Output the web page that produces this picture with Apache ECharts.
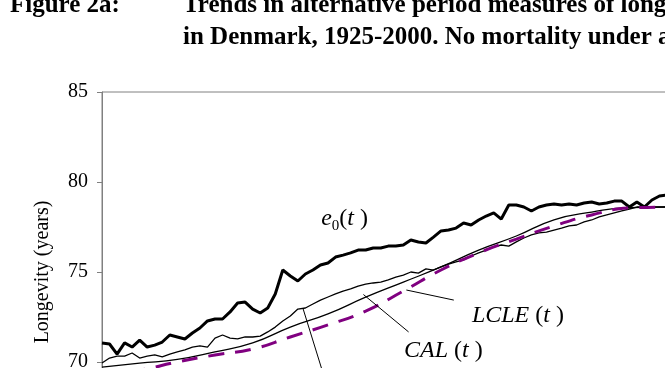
<!DOCTYPE html>
<html>
<head>
<meta charset="utf-8">
<script src="https://cdn.jsdelivr.net/npm/echarts@6/dist/echarts.min.js"></script>
<style>
  html, body { margin: 0; padding: 0; background: #fff; }
  #chart { width: 665px; height: 368px; }
</style>
</head>
<body>
<div id="chart"></div>
<script>
// years 1925-2000, one value per year for the jagged series
const firstYear = 1925
const lastYear = 2000
const years = []
for (let y = firstYear; y <= lastYear; y++) years.push(y)

// period life expectancy e0(t)
const e0 = [
  71.06, 71.0, 70.44, 71.06, 70.83, 71.22, 70.83, 70.94, 71.11, 71.5,
  71.39, 71.28, 71.61, 71.89, 72.28, 72.39, 72.39, 72.78, 73.28, 73.33,
  72.94, 72.72, 73.0, 73.78, 75.11, 74.78, 74.5, 74.89, 75.11, 75.39,
  75.5, 75.83, 75.94, 76.06, 76.22, 76.22, 76.33, 76.33, 76.44, 76.44,
  76.5, 76.78, 76.67, 76.61, 76.94, 77.28, 77.33, 77.44, 77.72, 77.61,
  77.89, 78.11, 78.28, 77.94, 78.72, 78.72, 78.61, 78.39, 78.61, 78.72,
  78.78, 78.72, 78.78, 78.72, 78.83, 78.89, 78.78, 78.83, 78.94, 78.94,
  78.61, 78.89, 78.61, 79.0, 79.22, 79.28
]

// thin jagged measure (its label is cut off below the picture)
const tcal = [
  69.94, 70.22, 70.33, 70.33, 70.5, 70.22, 70.33, 70.39, 70.28, 70.44,
  70.56, 70.67, 70.83, 70.89, 70.83, 71.33, 71.5, 71.33, 71.28, 71.39,
  71.39, 71.44, 71.67, 71.94, 72.28, 72.56, 72.94, 73.0, 73.22, 73.44,
  73.61, 73.78, 73.94, 74.06, 74.22, 74.33, 74.39, 74.44, 74.56, 74.72,
  74.83, 75.0, 74.94, 75.17, 75.11, 75.28, 75.44, 75.56, 75.67, 75.89,
  76.06, 76.22, 76.39, 76.5, 76.44, 76.67, 76.89, 77.06, 77.17, 77.22,
  77.33, 77.44, 77.56, 77.61, 77.78, 77.89, 78.06, 78.17, 78.28, 78.39,
  78.5, 78.61, 78.61, 78.61, 78.61, 78.61
]

// smooth measures, read every five years
const smoothYears = [1925, 1930, 1935, 1940, 1945, 1950, 1955, 1960, 1965, 1970, 1975, 1980, 1985, 1990, 1995, 2000]
const cal = [69.72, 69.94, 70.14, 70.56, 71.06, 71.94, 72.67, 73.6, 74.44, 75.28, 76.22, 77.0, 77.9, 78.33, 78.58, 78.61]
const lcle = [69.35, 69.55, 70.0, 70.39, 70.72, 71.39, 72.06, 72.83, 73.94, 75.11, 76.06, 76.83, 77.56, 78.17, 78.56, 78.61]

const yMin = 65
const yMax = 85
const yStep = 5

const serif = 'Liberation Serif'
const purple = '#800080'
const axisGrey = '#808080'

const pairs = (xs, vs) => xs.map((x, i) => [x, vs[i]])

const labelRich = {
  i: { fontFamily: serif, fontStyle: 'italic', fontSize: 24, lineHeight: 30, color: '#000' },
  n: { fontFamily: serif, fontSize: 24, lineHeight: 30, color: '#000' },
  s: { fontFamily: serif, fontSize: 15, lineHeight: 15, verticalAlign: 'bottom', color: '#000' }
}

const textPoint = (coord, text) => ({
  coord,
  symbol: 'circle',
  symbolSize: 0,
  label: { show: true, position: 'right', distance: 0, formatter: text, rich: labelRich }
})

const titleFont = 'bold 25px "Liberation Serif"'

const chart = echarts.init(document.getElementById('chart'))

const option = {
  animation: false,
  backgroundColor: '#fff',
  graphic: [
    { type: 'text', x: 10, y: 6, style: { text: 'Figure 2a:', font: titleFont, fill: '#000', verticalAlign: 'middle' } },
    { type: 'text', x: 183, y: 6, style: { text: 'Trends in alternative period measures of longevity', font: titleFont, fill: '#000', verticalAlign: 'middle' } },
    { type: 'text', x: 183, y: 38, style: { text: 'in Denmark, 1925-2000. No mortality under age', font: titleFont, fill: '#000', verticalAlign: 'middle' } }
  ],
  grid: {
    left: 102,
    top: 92,
    width: 565,
    height: 360,
    outerBoundsMode: 'none',
    show: true,
    borderColor: axisGrey,
    borderWidth: 1
  },
  xAxis: {
    type: 'value',
    min: firstYear,
    max: lastYear,
    show: false
  },
  yAxis: {
    type: 'value',
    min: yMin,
    max: yMax,
    interval: yStep,
    name: 'Longevity (years)',
    nameLocation: 'middle',
    nameGap: 49,
    nameTextStyle: { fontFamily: serif, fontSize: 20, color: '#000' },
    axisLine: { show: true, lineStyle: { color: axisGrey, width: 1 } },
    axisTick: { show: true, length: 5, lineStyle: { color: axisGrey } },
    axisLabel: { fontFamily: serif, fontSize: 20, color: '#000', margin: 14 },
    splitLine: { show: false }
  },
  series: [
    {
      name: 'e0(t)',
      type: 'line',
      data: pairs(years, e0),
      showSymbol: false,
      lineStyle: { color: '#000', width: 3 },
      markPoint: {
        silent: true,
        data: [
          textPoint([1954.1, 77.95], '{i|e}{s|0}{n|(}{i|t}{n| )}'),
          textPoint([1974.1, 72.55], '{i|LCLE}{n| (}{i|t}{n| )}'),
          textPoint([1965.1, 70.65], '{i|CAL}{n| (}{i|t}{n| )}')
        ]
      }
    },
    {
      name: 'TCAL(t)',
      type: 'line',
      data: pairs(years, tcal),
      showSymbol: false,
      lineStyle: { color: '#000', width: 1.3 }
    },
    {
      name: 'CAL(t)',
      type: 'line',
      data: pairs(smoothYears, cal),
      smooth: true,
      showSymbol: false,
      lineStyle: { color: '#000', width: 1.3 },
      markLine: {
        silent: true,
        symbol: 'none',
        label: { show: false },
        lineStyle: { color: '#000', width: 1, type: 'solid' },
        data: [
          [{ coord: [1965.4, 74.0] }, { coord: [1971.7, 73.44] }],
          [{ coord: [1959.7, 73.75] }, { coord: [1965.7, 71.67] }],
          [{ coord: [1951.7, 72.95] }, { coord: [1954.4, 69.3] }]
        ]
      }
    },
    {
      name: 'LCLE(t)',
      type: 'line',
      data: pairs(smoothYears, lcle),
      smooth: true,
      showSymbol: false,
      lineStyle: { color: purple, width: 3, type: [16, 11] }
    }
  ]
}

chart.setOption(option)
</script>
</body>
</html>
